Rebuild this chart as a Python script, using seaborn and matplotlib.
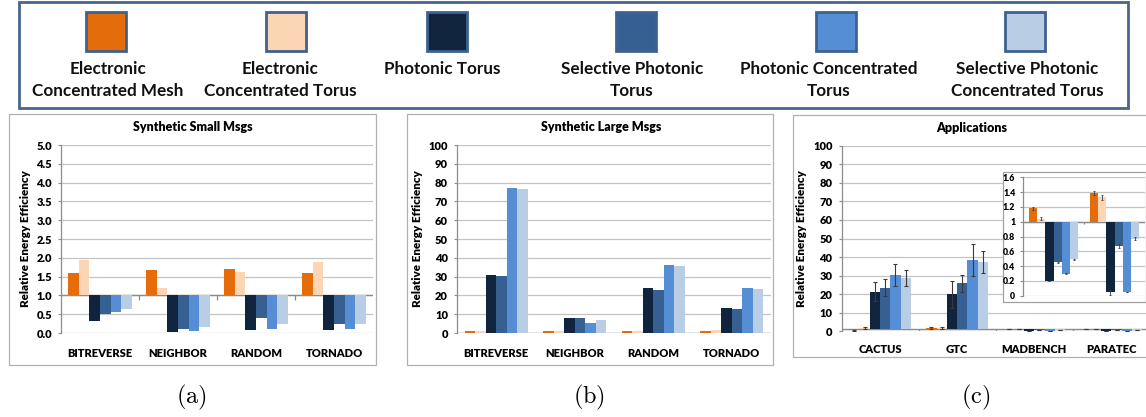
import numpy as np
import pandas as pd
import matplotlib
matplotlib.use("Agg")
import matplotlib.pyplot as plt
from matplotlib.patches import Rectangle
import seaborn as sns

# ---------------- data ----------------
series = ["Electronic Concentrated Mesh", "Electronic Concentrated Torus", "Photonic Torus",
          "Selective Photonic Torus", "Photonic Concentrated Torus",
          "Selective Photonic Concentrated Torus"]
legend_labels = ["Electronic\nConcentrated Mesh", "Electronic\nConcentrated Torus", "Photonic Torus",
                 "Selective Photonic\nTorus", "Photonic Concentrated\nTorus",
                 "Selective Photonic\nConcentrated Torus"]
colors = ["#E46C0A", "#FCD5B5", "#10243E", "#376092", "#558ED5", "#B9CDE5"]

patterns = ["BITREVERSE", "NEIGHBOR", "RANDOM", "TORNADO"]
applications = ["CACTUS", "GTC", "MADBENCH", "PARATEC"]
inset_apps = ["MADBENCH", "PARATEC"]

# rows = series, columns = patterns
small_msgs = [
    [1.60, 1.67, 1.70, 1.59],
    [1.94, 1.20, 1.62, 1.89],
    [0.32, 0.03, 0.08, 0.08],
    [0.50, 0.10, 0.39, 0.24],
    [0.56, 0.05, 0.10, 0.10],
    [0.63, 0.15, 0.24, 0.24],
]
large_msgs = [
    [1.3, 1.3, 1.3, 1.3],
    [1.1, 1.1, 1.1, 1.8],
    [30.7, 7.8, 23.8, 13.1],
    [30.2, 7.8, 22.7, 12.6],
    [77.1, 5.2, 36.1, 23.8],
    [76.6, 6.7, 35.5, 23.3],
]
# rows = series, columns = applications
app_values = [
    [0.55, 1.9, 1.18, 1.39],
    [1.6, 1.8, 1.04, 1.33],
    [21.3, 19.9, 0.20, 0.045],
    [23.5, 25.8, 0.45, 0.67],
    [30.5, 38.4, 0.30, 0.05],
    [28.7, 37.5, 0.49, 0.77],
]
app_errors = [
    [0.3, 0.4, 0.02, 0.025],
    [0.5, 0.6, 0.02, 0.03],
    [5.0, 7.3, 0.005, 0.035],
    [4.6, 4.6, 0.01, 0.03],
    [6.0, 8.5, 0.01, 0.005],
    [4.5, 6.0, 0.01, 0.02],
]

# ---------------- style ----------------
plt.rcParams["font.family"] = ["Lato", "DejaVu Sans"]
plt.rcParams["font.weight"] = "bold"
plt.rcParams["mathtext.fontset"] = "cm"
HEAVY = "heavy"

W, H = 1146, 417
fig = plt.figure(figsize=(W / 100, H / 100), dpi=100)
fig.patch.set_facecolor("white")

GRID = "#C4C4C4"
AXIS = "#8C8C8C"
BOX = "#B0B0B0"


def fx(x):
    return x / W


def fy(y):
    return 1 - y / H


def add_axes_px(left, top, right, bottom):
    return fig.add_axes([fx(left), fy(bottom), (right - left) / W, (bottom - top) / H])


def long_df(cats, values):
    rows = []
    for s, vals in zip(series, values):
        for c, v in zip(cats, vals):
            rows.append({"category": c, "series": s, "value": v})
    return pd.DataFrame(rows)


def draw_panel(ax, cats, values, base, ylim, yticks, ylabels, width=0.8,
               errors=None, tick_size=8, cat_size=8, show_cats=True, ylabel=None,
               capsize=1.6, err_lw=0.8, cat_pad=11):
    df = long_df(cats, values)
    df["height"] = df["value"] - base
    sns.barplot(data=df, x="category", y="height", hue="series", order=cats,
                hue_order=series, palette=colors, saturation=1, width=width, gap=0,
                errorbar=None, legend=False, bottom=base, ax=ax,
                edgecolor="none", linewidth=0, zorder=2)
    if errors is not None:
        for cont, vals, errs in zip(ax.containers, values, errors):
            xs = [p.get_x() + p.get_width() / 2 for p in cont.patches]
            ax.errorbar(xs, vals, yerr=errs, fmt="none", ecolor="#3A3A3A",
                        elinewidth=err_lw, capsize=capsize, capthick=err_lw, zorder=3)
    ax.set_xlim(-0.5, len(cats) - 0.5)
    ax.set_ylim(*ylim)
    ax.set_yticks(yticks)
    ax.set_yticklabels(ylabels, fontsize=tick_size, fontweight=HEAVY)
    ax.yaxis.grid(True, color=GRID, lw=0.9)
    ax.set_axisbelow(True)
    for sp in ["top", "right", "bottom"]:
        ax.spines[sp].set_visible(False)
    ax.spines["left"].set_color(AXIS)
    ax.spines["left"].set_linewidth(0.9)
    ax.tick_params(axis="y", length=2.5, width=0.8, color=AXIS, pad=4)
    ax.tick_params(axis="x", length=0, pad=cat_pad)
    if show_cats:
        ax.set_xticks(range(len(cats)))
        ax.set_xticklabels(cats, fontsize=cat_size, fontweight=HEAVY)
    else:
        ax.set_xticklabels([])
    ax.set_xlabel("")
    if ylabel:
        ax.set_ylabel(ylabel, fontsize=8.4, fontweight=HEAVY, labelpad=4)
    else:
        ax.set_ylabel("")
    # category axis line at the baseline with boundary tick marks
    ax.axhline(base, color=AXIS, lw=1.0, zorder=1.5)
    span = ylim[1] - ylim[0]
    ax.vlines([i + 0.5 for i in range(len(cats) - 1)], base - span * 0.022, base,
              color=AXIS, lw=0.9, zorder=1.5)
    ax.set_facecolor("none")


# ---------------- legend box ----------------
fig.add_artist(Rectangle((fx(19), fy(108)), (1128 - 19) / W, (108 - 2) / H,
                         transform=fig.transFigure, fill=False, edgecolor="#46668F",
                         lw=2.0))
sw_centers = [105.5, 285.5, 447, 636, 835.5, 1025]
lab_centers = [108, 280, 442, 632, 829, 1027]
for c, lc, col, lab in zip(sw_centers, lab_centers, colors, legend_labels):
    fig.add_artist(Rectangle((fx(c - 20), fy(51)), 40 / W, 39 / H,
                             transform=fig.transFigure, facecolor=col,
                             edgecolor="#3E6290", lw=2.0))
    fig.text(fx(lc), fy(61), lab, ha="center", va="top", fontsize=12.3,
             fontweight="bold", linespacing=1.5, color="#111111")

# ---------------- panel boxes ----------------
for (l, t, r, b) in [(9, 114, 376, 365), (407, 114, 773, 365), (793, 115, 1153, 357)]:
    fig.add_artist(Rectangle((fx(l), fy(b)), (r - l) / W, (b - t) / H,
                             transform=fig.transFigure, fill=False, edgecolor=BOX, lw=0.9))

ylabel_txt = "Relative Energy Efficiency"

# (a) synthetic small messages
ax_a = add_axes_px(61, 145, 373, 333)
draw_panel(ax_a, patterns, small_msgs, 1.0, (0, 5), np.arange(0, 5.01, 0.5),
           [f"{v:.1f}" for v in np.arange(0, 5.01, 0.5)], width=0.81, ylabel=ylabel_txt)
fig.text(fx(193), fy(127), "Synthetic Small Msgs", ha="center", va="center",
         fontsize=9, fontweight=HEAVY)

# (b) synthetic large messages
ax_b = add_axes_px(457, 145, 771, 333)
draw_panel(ax_b, patterns, large_msgs, 0.0, (0, 100), np.arange(0, 101, 10),
           [str(v) for v in range(0, 101, 10)], width=0.8, ylabel=ylabel_txt)
fig.text(fx(601), fy(127), "Synthetic Large Msgs", ha="center", va="center",
         fontsize=9, fontweight=HEAVY)

# (c) applications
ax_c = add_axes_px(841.5, 145.7, 1150, 331.3)
draw_panel(ax_c, applications, app_values, 1.0, (0, 100), np.arange(0, 101, 10),
           [str(v) for v in range(0, 101, 10)], width=0.8, errors=app_errors,
           ylabel=ylabel_txt, cat_pad=9)
fig.text(fx(972), fy(128), "Applications", ha="center", va="center",
         fontsize=9, fontweight=HEAVY)

# inset
fig.add_artist(Rectangle((fx(1003), fy(302)), (1146 - 1003) / W, (302 - 172) / H,
                         transform=fig.transFigure, facecolor="white", edgecolor="#A0A0A0",
                         lw=0.9, zorder=1))
ax_in = add_axes_px(1023, 177.3, 1145, 295.7)
ax_in.set_zorder(2)
sel = [applications.index(a) for a in inset_apps]
inset_vals = [[row[i] for i in sel] for row in app_values]
inset_errs = [[row[i] for i in sel] for row in app_errors]
inset_ticks = np.round(np.arange(0, 1.61, 0.2), 1)
draw_panel(ax_in, inset_apps, inset_vals, 1.0, (0, 1.6), inset_ticks,
           [f"{v:g}" for v in inset_ticks], width=0.81, errors=inset_errs,
           tick_size=6.3, show_cats=False, capsize=0.8, err_lw=0.6)
ax_in.tick_params(axis="y", pad=3)
ax_in.set_xticks([])

# sub-figure labels
for x, lab in [(191, "(a)"), (589, "(b)"), (976, "(c)")]:
    fig.text(fx(x), fy(397), r"$\mathrm{" + lab + "}$", ha="center", va="center",
             fontsize=17.5)

fig.savefig("out.png", dpi=100)
